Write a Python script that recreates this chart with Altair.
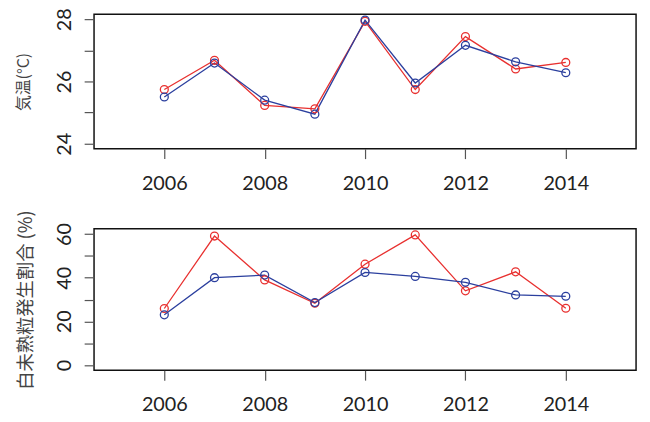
import altair as alt
import pandas as pd

years = [2006, 2007, 2008, 2009, 2010, 2011, 2012, 2013, 2014]
series_names = ["red", "blue"]
series_colors = ["#e8302f", "#2b3f9e"]

temp_red = [25.74, 26.68, 25.23, 25.12, 27.93, 25.74, 27.44, 26.40, 26.61]
temp_blue = [25.50, 26.59, 25.40, 24.95, 27.97, 25.95, 27.16, 26.63, 26.28]

rate_red = [25.9, 59.1, 39.0, 28.3, 46.2, 59.6, 34.0, 42.7, 26.0]
rate_blue = [23.0, 40.0, 41.2, 28.6, 42.4, 40.6, 37.9, 32.1, 31.5]

x_ticks = [2006, 2008, 2010, 2012, 2014]
temp_ticks = [24, 25, 26, 27, 28]
rate_ticks = [0, 10, 20, 30, 40, 50, 60]

title_top = "気温(°C)"
title_bottom = "白未熟粒発生割合 (%)"


def make_df(red, blue):
    rows = []
    for name, vals in zip(series_names, [red, blue]):
        for y, v in zip(years, vals):
            rows.append({"year": y, "value": v, "series": name})
    return pd.DataFrame(rows)


def panel(df, title, title_x, title_size, ydomain, yticks, label_expr, height):
    base = alt.Chart(df).encode(
        x=alt.X(
            "year:Q",
            scale=alt.Scale(domain=[2004.6, 2015.4], nice=False, zero=False),
            axis=alt.Axis(values=x_ticks, format="d", title=None,
                          labelPadding=15, labelBaseline="top"),
        ),
        y=alt.Y(
            "value:Q",
            scale=alt.Scale(domain=ydomain, nice=False, zero=False),
            axis=alt.Axis(
                values=yticks,
                labelExpr=label_expr,
                labelAngle=270,
                labelAlign="center",
                labelBaseline="bottom",
                labelPadding=10,
                title=title,
                titleAngle=270,
                titleX=title_x,
                titleY=height / 2,
                titleAlign="center",
                titleBaseline="middle",
                titleFont="Noto Sans CJK JP",
                titleFontSize=title_size,
                titleFontWeight="normal",
                titleColor="#444444",
            ),
        ),
        color=alt.Color(
            "series:N",
            scale=alt.Scale(domain=series_names, range=series_colors),
            legend=None,
        ),
    )
    lines = base.mark_line(strokeWidth=1.3)
    pts = base.mark_point(shape="circle", filled=False, size=64,
                          strokeWidth=1.3, opacity=1)
    return alt.layer(lines, pts).properties(width=548, height=height)


top = panel(make_df(temp_red, temp_blue), title_top, -71.3, 16,
            [23.84, 28.16], temp_ticks,
            "datum.value % 2 == 0 ? datum.label : ''", 136)
bottom = panel(make_df(rate_red, rate_blue), title_bottom, -69.3, 18.5,
               [-2.4, 62.4], rate_ticks,
               "datum.value % 20 == 0 ? datum.label : ''", 143)

chart = alt.vconcat(top, bottom, spacing=81, bounds="flush").properties(
    padding={"left": 6, "top": -4, "right": 5, "bottom": 0}
).configure_view(
    stroke="#111111", strokeWidth=1.5
).configure_axis(
    domain=False,
    grid=False,
    tickColor="#555555",
    tickWidth=1.2,
    tickSize=10,
    labelFont="Lato",
    labelFontSize=20,
    labelColor="#222222",
)

chart.save("out.html", embed_options={"renderer": "svg", "actions": False})
